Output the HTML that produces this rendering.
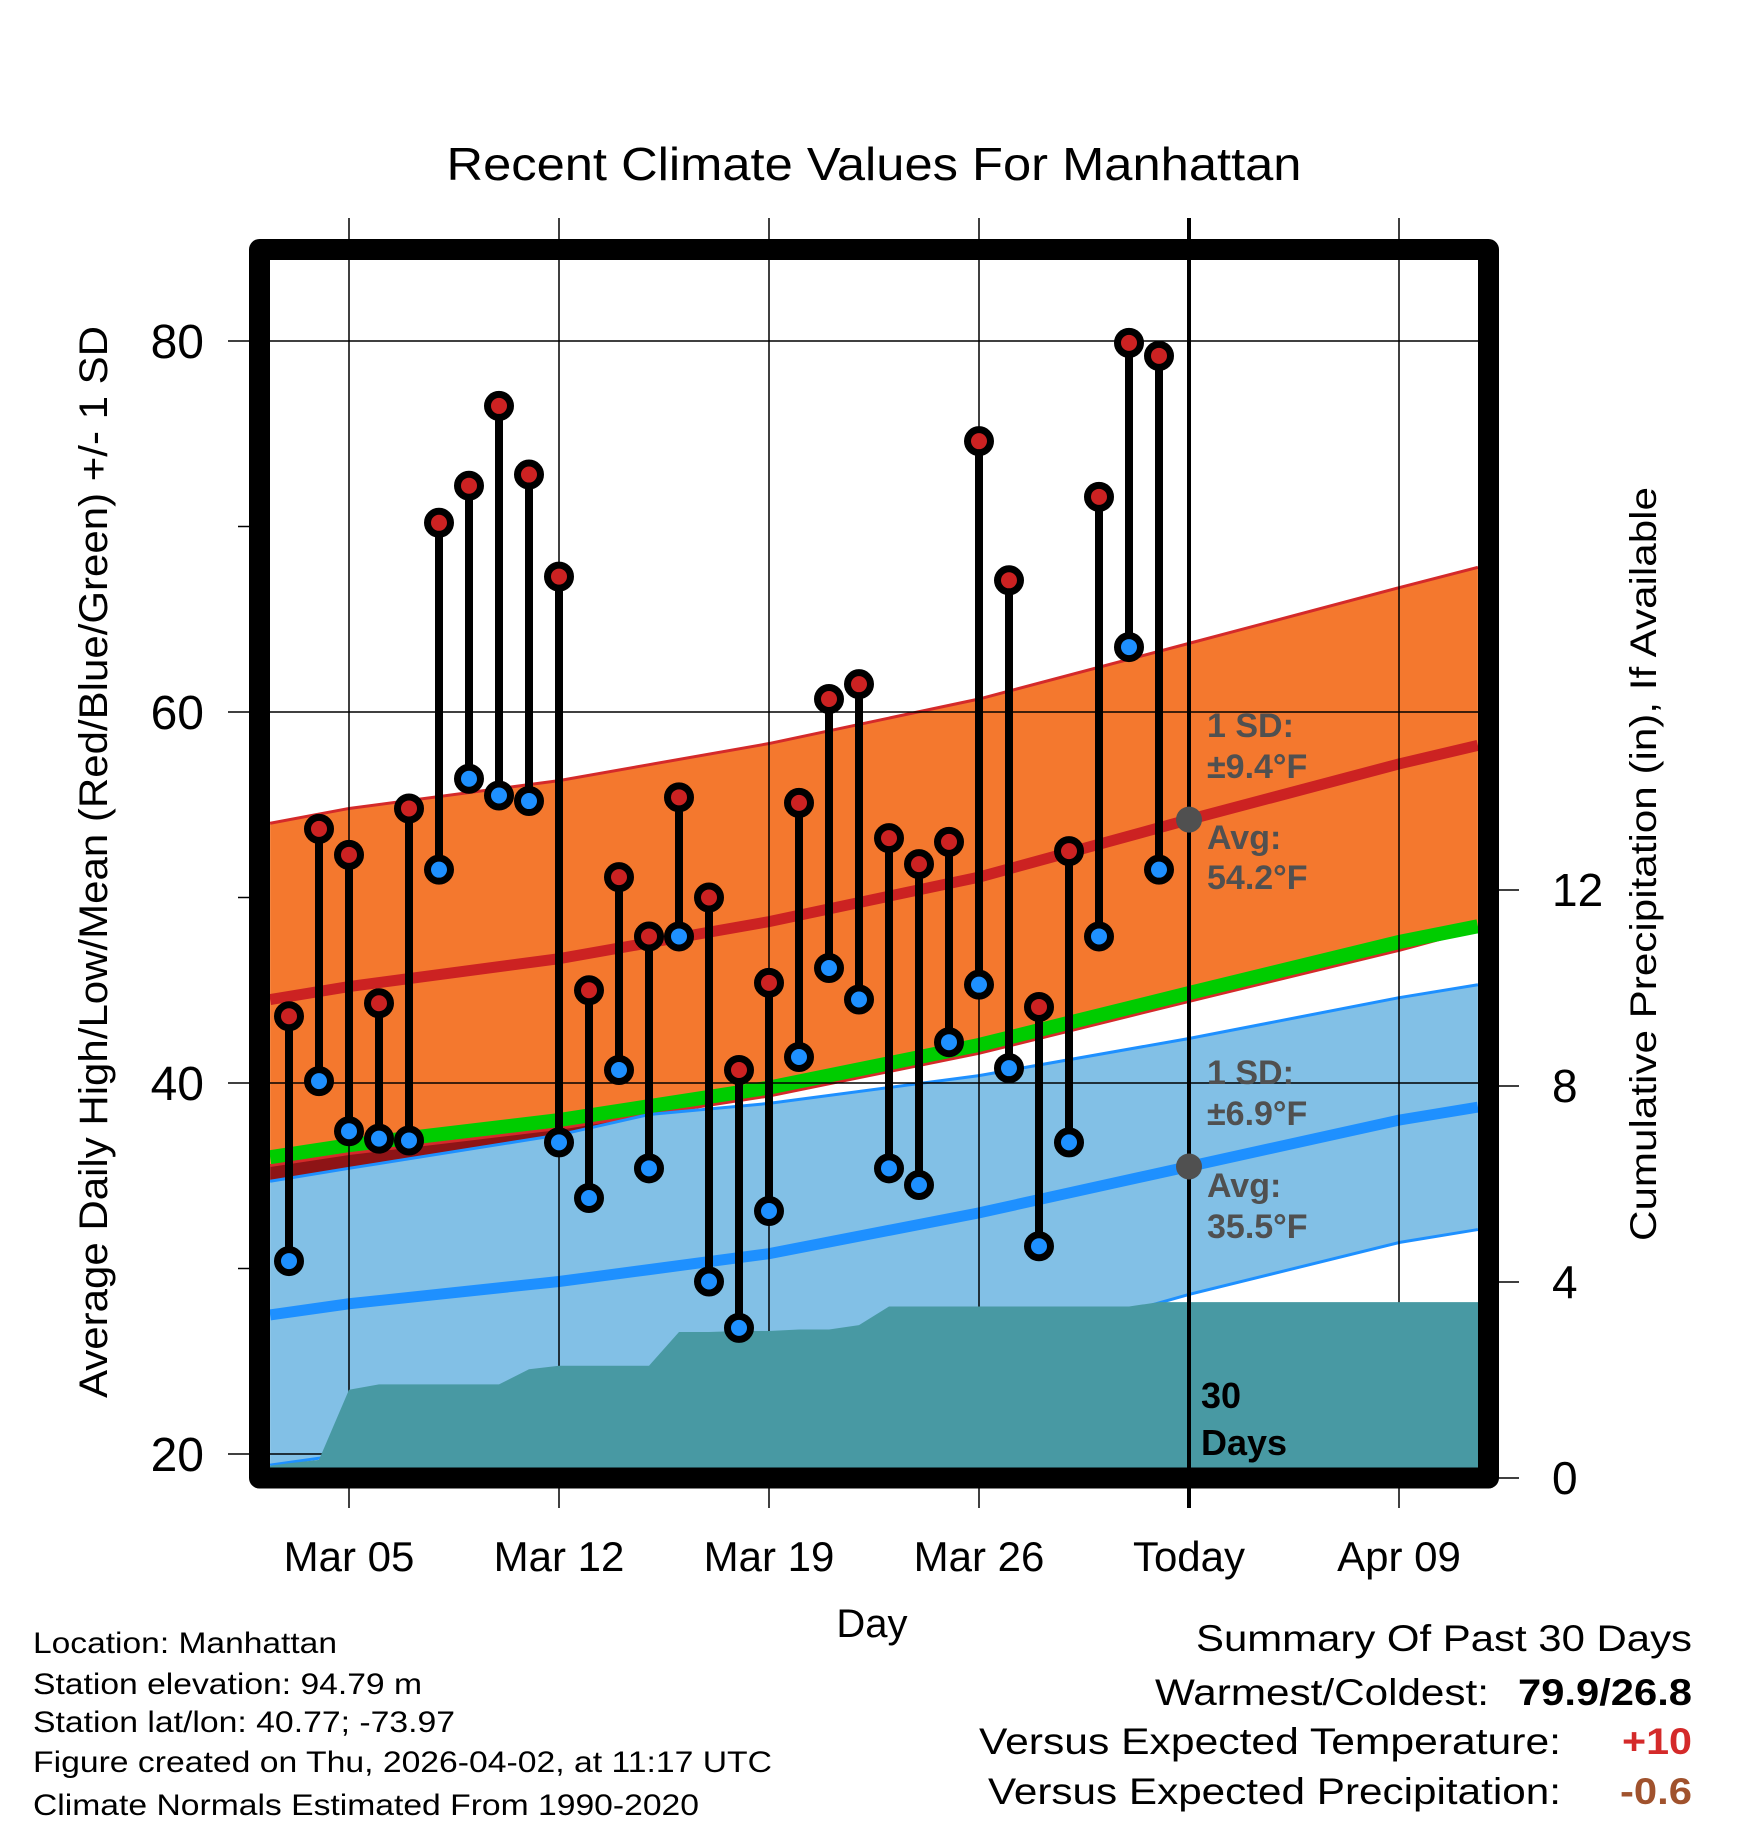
<!DOCTYPE html>
<html><head><meta charset="utf-8"><style>
html,body{margin:0;padding:0;background:#fff;}
svg{display:block;font-family:"Liberation Sans",Arial,sans-serif;}
</style></head>
<body>
<svg id="chart" xmlns="http://www.w3.org/2000/svg" width="1748" height="1828" viewBox="0 0 1748 1828">
<defs><clipPath id="plotclip"><rect x="270" y="260" width="1208" height="1208"/></clipPath></defs>
<rect x="0" y="0" width="1748" height="1828" fill="#fff"/>
<text x="874" y="180" font-size="46" text-anchor="middle" textLength="855" lengthAdjust="spacingAndGlyphs">Recent Climate Values For Manhattan</text>
<g id="bands" clip-path="url(#plotclip)"></g>
<g id="grid"></g>
<g id="precip" clip-path="url(#plotclip)"></g>
<g id="marks"></g>
<g id="labels">
<g font-weight="bold" font-size="34" fill="#505050">
<text x="1207" y="737">1 SD:</text>
<text x="1207" y="778">±9.4°F</text>
<text x="1207" y="849">Avg:</text>
<text x="1207" y="889">54.2°F</text>
<text x="1207" y="1084">1 SD:</text>
<text x="1207" y="1125">±6.9°F</text>
<text x="1207" y="1197">Avg:</text>
<text x="1207" y="1238">35.5°F</text>
</g>
<text x="1201" y="1408" font-weight="bold" font-size="36">30</text>
<text x="1201" y="1455" font-weight="bold" font-size="36">Days</text>
</g>
<rect x="259.5" y="249.5" width="1229" height="1228.5" fill="none" stroke="#000" stroke-width="21" stroke-linejoin="round"/>
<g id="axes"></g>
<text transform="translate(107,862) rotate(-90)" font-size="40" text-anchor="middle" textLength="1072" lengthAdjust="spacingAndGlyphs">Average Daily High/Low/Mean (Red/Blue/Green) +/- 1 SD</text>
<text transform="translate(1656,864) rotate(-90)" font-size="37" text-anchor="middle" textLength="754" lengthAdjust="spacingAndGlyphs">Cumulative Precipitation (in), If Available</text>
<text x="872" y="1637" font-size="40" text-anchor="middle">Day</text>
<g font-size="30">
<text x="33" y="1653" textLength="304" lengthAdjust="spacingAndGlyphs">Location: Manhattan</text>
<text x="33" y="1694" textLength="389" lengthAdjust="spacingAndGlyphs">Station elevation: 94.79 m</text>
<text x="33" y="1732" textLength="422" lengthAdjust="spacingAndGlyphs">Station lat/lon: 40.77; -73.97</text>
<text x="33" y="1772" textLength="739" lengthAdjust="spacingAndGlyphs">Figure created on Thu, 2026-04-02, at 11:17 UTC</text>
<text x="33" y="1815" textLength="666" lengthAdjust="spacingAndGlyphs">Climate Normals Estimated From 1990-2020</text>
</g>
<g font-size="37">
<text x="1196" y="1651" textLength="496" lengthAdjust="spacingAndGlyphs">Summary Of Past 30 Days</text>
<text x="1155" y="1705" textLength="334" lengthAdjust="spacingAndGlyphs">Warmest/Coldest:</text>
<text x="1518" y="1705" font-weight="bold" textLength="174" lengthAdjust="spacingAndGlyphs">79.9/26.8</text>
<text x="979" y="1754" textLength="582" lengthAdjust="spacingAndGlyphs">Versus Expected Temperature:</text>
<text x="1622" y="1754" font-weight="bold" fill="#d42a2a" textLength="70" lengthAdjust="spacingAndGlyphs">+10</text>
<text x="988" y="1804" textLength="573" lengthAdjust="spacingAndGlyphs">Versus Expected Precipitation:</text>
<text x="1620" y="1804" font-weight="bold" fill="#a0522d" textLength="72" lengthAdjust="spacingAndGlyphs">-0.6</text>
</g>
</svg>
<script>
// ---- data (day index: Mar 1 = 1) ----
var obsDays = [3,4,5,6,7,8,9,10,11,12,13,14,15,16,17,18,19,20,21,22,23,24,25,26,27,28,29,30,31,32];
var highs = [43.6,53.7,52.3,44.3,54.8,70.2,72.2,76.5,72.8,67.3,45.0,51.1,47.9,55.4,50.0,40.7,45.4,55.1,60.7,61.5,53.2,51.8,53.0,74.6,67.1,44.1,52.5,71.6,79.9,79.2];
var lows = [30.4,40.1,37.4,37.0,36.9,51.5,56.4,55.5,55.2,36.8,33.8,40.7,35.4,47.9,29.3,26.8,33.1,41.4,46.2,44.5,35.4,34.5,42.2,45.3,40.8,31.2,36.8,47.9,63.5,51.5];
var precip = [0.30,0.37,1.80,1.91,1.91,1.91,1.91,1.91,2.22,2.29,2.29,2.29,2.29,2.98,2.98,3.00,3.00,3.03,3.03,3.12,3.50,3.50,3.50,3.50,3.50,3.50,3.50,3.50,3.50,3.59];
var normDays = [2.37,5,12,15,19,26,33,40,42.63];
var hiTop = [54.0,54.8,56.3,57.16,58.3,60.7,63.7,66.7,67.8];
var hiMean = [44.5,45.2,46.7,47.56,48.7,51.1,54.2,57.2,58.2];
var hiBot = [35.55,36.2,37.55,38.3,39.3,41.6,44.4,47.15,48.3];
var loTop = [34.7,35.4,37.2,38.3,38.9,40.4,42.4,44.6,45.3];
var loMean = [27.5,28.1,29.3,29.94,30.8,33.0,35.5,38.0,38.7];
var loBot = [19.4,20.0,21.2,21.84,22.7,25.4,28.6,31.4,32.1];
var midMean = [36.0,36.65,38.0,38.75,39.75,42.05,44.85,47.6,48.45];
var tempTicks = [20,40,60,80];
var tempMinor = [30,50,70];
var precipTicks = [0,4,8,12];
var dateTickDays = [5,12,19,26,33,40];
var dateTickLabels = ["Mar 05","Mar 12","Mar 19","Mar 26","Today","Apr 09"];
var todayDay = 33;

// ---- scales ----
function xs(d){return 349 + (d-5)*30;}
function ys(t){return 341 + (80-t)*18.55;}
function yp(p){return 1478 - p*49;}
var NS="http://www.w3.org/2000/svg";
function mk(tag,attrs,parent){var e=document.createElementNS(NS,tag);for(var k in attrs)e.setAttribute(k,attrs[k]);parent.appendChild(e);return e;}
function line(arr){return normDays.map(function(d,i){return xs(d)+","+ys(arr[i]);});}
function band(top,bot){var a=line(top),b=line(bot).reverse();return a.concat(b).join(" ");}

var bands=document.getElementById("bands");
var e;
e=mk("polygon",{points:band(loTop,loBot),fill:"#82c0e6"},bands);


e=mk("polygon",{points:band(hiTop,hiBot),fill:"#f4782e"},bands);


// gap between bands before they meet (dark red)
var gapPts=[];
for(var i=0;i<normDays.length;i++){ if(loTop[i]<hiBot[i]||i===0) gapPts.push(xs(normDays[i])+","+ys(hiBot[i])); else {gapPts.push(xs(normDays[i])+","+ys(hiBot[i]));break;} }
var gapN=gapPts.length;
for(var j=gapN-1;j>=0;j--){gapPts.push(xs(normDays[j])+","+ys(loTop[j]));}
e=mk("polygon",{points:gapPts.join(" "),fill:"#8e1416"},bands);


var edges=[[hiTop,"#d42a2a",3,"high-band-top-edge"],[hiBot,"#d42a2a",3,"high-band-bottom-edge"],[loTop,"#1e90ff",3,"low-band-top-edge"],[loBot,"#1e90ff",3,"low-band-bottom-edge"],[hiMean,"#cc2222",11,"high-mean-line"],[loMean,"#1e90ff",11,"low-mean-line"],[midMean,"#00cc00",14,"mean-line"]];
edges.forEach(function(s){
  var p=mk("polyline",{points:line(s[0]).join(" "),fill:"none",stroke:s[1],"stroke-width":s[2]},bands);
  
  
});

// ---- gridlines ----
var grid=document.getElementById("grid");
dateTickDays.forEach(function(d){
  if(d===todayDay)return;
  var g=mk("line",{x1:xs(d),x2:xs(d),y1:218,y2:1508,stroke:"#000","stroke-width":1.5},grid);
  
  
});
tempTicks.forEach(function(t){
  var g=mk("line",{x1:228,x2:1478,y1:ys(t),y2:ys(t),stroke:"#000","stroke-width":1.5},grid);
  
  
});

// ---- precipitation ----
var pg=document.getElementById("precip");
var pts=[[270,yp(precip[0]-0.05)]];
obsDays.forEach(function(d,i){pts.push([xs(d),yp(precip[i])]);});
pts.push([1478,yp(precip[precip.length-1])]);
var ptsStr=pts.map(function(p){return p[0]+","+p[1];}).join(" ")+" 1478,1478 270,1478";
e=mk("polygon",{points:ptsStr,fill:"#4899a3"},pg);



// ---- today line & marks ----
var marks=document.getElementById("marks");
e=mk("line",{x1:xs(todayDay),x2:xs(todayDay),y1:218,y2:1508,stroke:"#000","stroke-width":4},marks);


e=mk("circle",{cx:xs(todayDay),cy:ys(hiMean[6]),r:13,fill:"#505050"},marks);


e=mk("circle",{cx:xs(todayDay),cy:ys(loMean[6]),r:13,fill:"#505050"},marks);


obsDays.forEach(function(d,i){
  var x=xs(d);
  var s=mk("line",{x1:x,x2:x,y1:ys(highs[i]),y2:ys(lows[i]),stroke:"#000","stroke-width":8},marks);
  
  
  var h=mk("circle",{cx:x,cy:ys(highs[i]),r:11.5,fill:"#cc2222",stroke:"#000","stroke-width":7},marks);
  
  
  var l=mk("circle",{cx:x,cy:ys(lows[i]),r:11.5,fill:"#1e90ff",stroke:"#000","stroke-width":7},marks);
  
  
});

// ---- axes ----
var ax=document.getElementById("axes");
tempTicks.forEach(function(t){
  var tx=mk("text",{x:204,y:ys(t)+17,"font-size":48,"text-anchor":"end"},ax);
  tx.textContent=t;
  
  
});
tempMinor.forEach(function(t){
  var tk=mk("line",{x1:238,x2:249,y1:ys(t),y2:ys(t),stroke:"#000","stroke-width":1.5},ax);
  
  
});
precipTicks.forEach(function(p){
  var tk=mk("line",{x1:1499,x2:1519,y1:yp(p),y2:yp(p),stroke:"#000","stroke-width":1.5},ax);
  
  
  var tx=mk("text",{x:1552,y:yp(p)+16,"font-size":46},ax);
  tx.textContent=p;
  
  
});
dateTickDays.forEach(function(d,i){
  var tx=mk("text",{x:xs(d),y:1571,"font-size":42,"text-anchor":"middle"},ax);
  tx.textContent=dateTickLabels[i];
  
  
});
</script>
</body></html>
